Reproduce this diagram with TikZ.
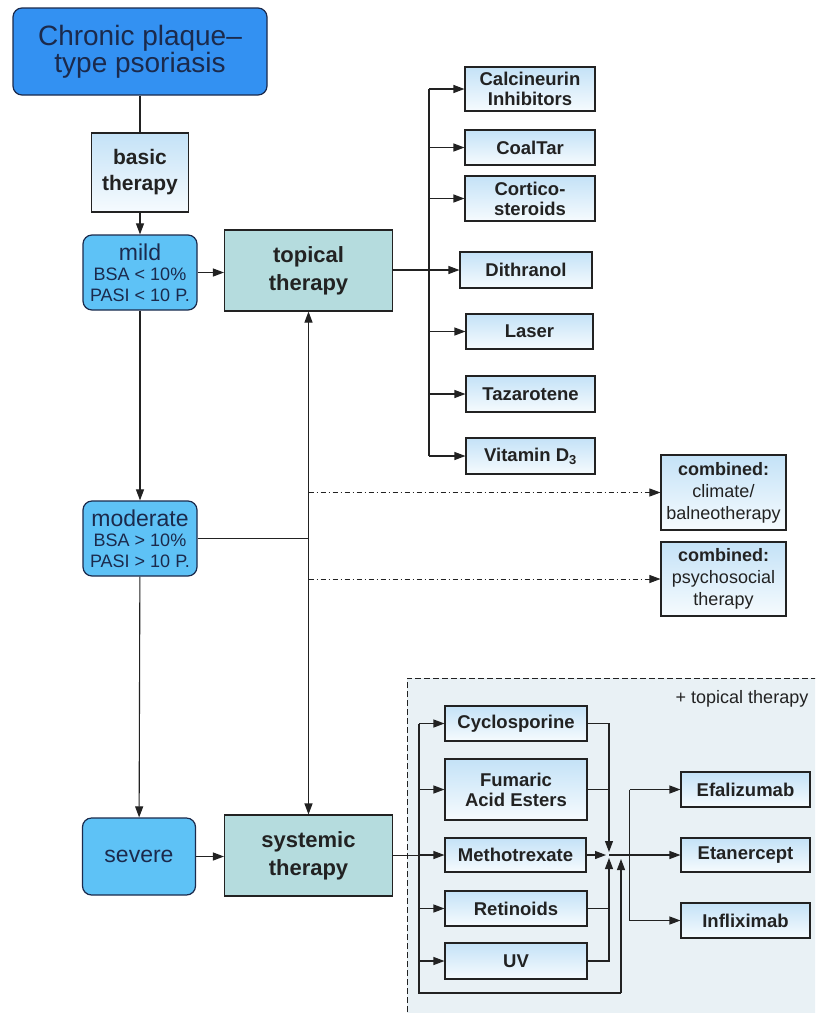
\documentclass[tikz,border=0pt]{standalone}
\usepackage{fontspec}
\setmainfont{Liberation Sans}
\usetikzlibrary{arrows.meta,calc}
\definecolor{titleblue}{HTML}{3391F2}
\definecolor{sevblue}{HTML}{5EC2F6}
\definecolor{therfill}{HTML}{B5DCDE}
\definecolor{itemtop}{HTML}{C4E2F7}
\definecolor{itembot}{HTML}{F6FBFE}
\definecolor{navy}{HTML}{1B2A4C}
\definecolor{boxbg}{HTML}{E9F1F5}
\definecolor{edge}{HTML}{222222}
\tikzset{
  tip/.tip={Triangle[length=11pt,width=8pt]},
  ln/.style={draw=edge, line width=1.1pt},
  arr/.style={ln, -tip},
  arrboth/.style={ln, tip-tip},
  dd/.style={ln, line width=0.8pt, dash pattern=on 5pt off 3pt on 1pt off 3pt, -tip},
  titlebox/.style={draw=navy, line width=1.2pt, rounded corners=9pt, fill=titleblue,
    text=navy, align=center, inner sep=1pt, font=\fontsize{28}{26}\selectfont},
  sevbox/.style={draw=navy, line width=1.2pt, rounded corners=9pt, fill=sevblue,
    text=navy, align=center, inner sep=1pt, font=\fontsize{18}{20.5}\selectfont},
  therbox/.style={draw=edge, line width=1.1pt, fill=therfill, text=edge, align=center,
    inner sep=1pt, minimum width=168pt, minimum height=81pt,
    font=\fontsize{22}{28}\selectfont\bfseries},
  itembox/.style={draw=edge, line width=1.1pt, top color=itemtop, bottom color=itembot,
    text=edge, align=center, inner sep=1pt, font=\fontsize{18.5}{20}\selectfont\bfseries},
  combbox/.style={draw=edge, line width=1.1pt, top color=itemtop, bottom color=itembot,
    text=edge, align=center, inner sep=1pt, minimum width=125pt, minimum height=75pt,
    font=\fontsize{18}{22}\selectfont},
}
\begin{document}
\begin{tikzpicture}[x=1pt,y=-1pt]
\useasboundingbox (0,0) rectangle (815,1013);
\fill[white] (0,0) rectangle (815,1013);
\clip (0,0) rectangle (815,1013);

% dashed region
\fill[boxbg] (407,678) rectangle (830,1030);
\draw[ln, dash pattern=on 6pt off 3pt, line width=0.8pt] (407,1030) -- (407,678) -- (830,678);
\node[font=\fontsize{18}{20}\selectfont, text=edge] (plus) at (742,699) {+ topical therapy};

% main column
\node[titlebox, minimum width=254pt, minimum height=87pt] (title) at (140,51.5) {Chronic plaque--\\type psoriasis};
\node[itembox, minimum width=97pt, minimum height=79pt, font=\fontsize{21}{26}\selectfont\bfseries] (basic) at (140,172.5) {basic\\therapy};
\node[sevbox, minimum width=114pt, minimum height=75pt] (mild) at (140,272.5)
  {{\fontsize{23}{20}\selectfont mild}\\BSA < 10\%\\PASI < 10 P.};
\node[sevbox, minimum width=114pt, minimum height=75pt] (moderate) at (140,538.5)
  {{\fontsize{23}{20}\selectfont moderate}\\BSA > 10\%\\PASI > 10 P.};
\node[sevbox, minimum width=113pt, minimum height=77pt, font=\fontsize{23}{24}\selectfont] (severe) at (139,856.5) {severe};

\node[therbox] (topical) at (308.5,270.5) {topical\\therapy};
\node[therbox] (systemic) at (308.5,855.5) {systemic\\therapy};

% topical items
\node[itembox, minimum width=130pt, minimum height=44pt] (calc) at (530,89) {Calcineurin\\Inhibitors};
\node[itembox, minimum width=130pt, minimum height=35pt] (coal) at (530,147.5) {CoalTar};
\node[itembox, minimum width=130pt, minimum height=45pt] (cort) at (530,198.5) {Cortico-\\steroids};
\node[itembox, minimum width=132pt, minimum height=36pt] (dith) at (526,270) {Dithranol};
\node[itembox, minimum width=127pt, minimum height=35pt] (laser) at (529.5,331.5) {Laser};
\node[itembox, minimum width=129pt, minimum height=36pt] (taz) at (530.5,394) {Tazarotene};
\node[itembox, minimum width=129pt, minimum height=36pt] (vitd) at (530.5,456) {Vitamin D\textsubscript{3}};

% combined
\node[combbox] (climate) at (723.5,492.5) {\textbf{combined:}\\climate/\\balneotherapy};
\node[combbox, minimum height=74pt] (psycho) at (723.5,579) {\textbf{combined:}\\psychosocial\\therapy};

% systemic items
\node[itembox, minimum width=142pt, minimum height=35pt] (cyclo) at (516,723.5) {Cyclosporine};
\node[itembox, minimum width=142pt, minimum height=61pt] (fum) at (516,789.5) {Fumaric\\Acid Esters};
\node[itembox, minimum width=141pt, minimum height=34pt] (mtx) at (515.5,855) {Methotrexate};
\node[itembox, minimum width=142pt, minimum height=35pt] (ret) at (516,908.5) {Retinoids};
\node[itembox, minimum width=142pt, minimum height=36pt] (uv) at (516,961) {UV};

\node[itembox, minimum width=129pt, minimum height=35pt] (efa) at (745.5,789.5) {Efalizumab};
\node[itembox, minimum width=129pt, minimum height=34pt] (eta) at (745.5,855) {Etanercept};
\node[itembox, minimum width=129pt, minimum height=35pt] (inf) at (745.5,920.5) {Infliximab};

% main connectors
\draw[ln] (title) -- (basic);
\draw[arr] (basic) -- (mild);
\draw[arr] (mild) -- (moderate);
\draw[arr] (moderate) -- (severe);
\draw[arr] (mild.east) -- (mild.east -| topical.west);
\draw[arr] (severe.east) -- (severe.east -| systemic.west);
\draw[arrboth] (topical.south) -- (systemic.north);
\coordinate (vj) at (308.5,538.5);
\draw[ln] (moderate.east) -- (vj);
\coordinate (d1) at (308.5,492.5);
\coordinate (d2) at (308.5,579);
\draw[dd] (d1) -- (climate.west);
\draw[dd] (d2) -- (psycho.west);

% topical fan-out
\coordinate (tt) at (429,270);
\draw[ln, line width=2pt] (topical.east |- tt) -- (tt);
\draw[ln] (tt |- calc.west) -- (tt |- vitd.west);
\foreach \n in {calc,coal,cort,dith,laser,taz,vitd}
  \draw[arr] (tt |- \n.west) -- (\n.west);

% systemic fan-out
\coordinate (st) at (419,855.5);
\coordinate (sb) at (419,993);
\coordinate (sb2) at (621,993);
\coordinate (m2) at (621,859);
\draw[ln] (systemic.east) -- (st);
\draw[ln] (st |- cyclo.west) -- (sb) -- (sb2);
\draw[arr] (sb2) -- (m2);
\foreach \n in {cyclo,fum,mtx,ret,uv}
  \draw[arr] (st |- \n.west) -- (\n.west);

% merge
\coordinate (M) at (609,855);
\coordinate (mT) at (609,852);
\coordinate (mB) at (609,858);
\coordinate (mL) at (606,855);
\draw[arr] (cyclo.east) -| (mT);
\draw[ln] (fum.east) -- (fum.east -| M);
\draw[ln] (ret.east) -- (ret.east -| M);
\draw[arr] (uv.east) -| (mB);
\draw[arr] (mtx.east) -- (mL);
\coordinate (bt) at (629.5,855);
\draw[arr] (M) -- (eta.west);
\draw[ln] (bt |- efa.west) -- (bt |- inf.west);
\draw[arr] (bt |- efa.west) -- (efa.west);
\draw[arr] (bt |- inf.west) -- (inf.west);
\end{tikzpicture}
\end{document}
